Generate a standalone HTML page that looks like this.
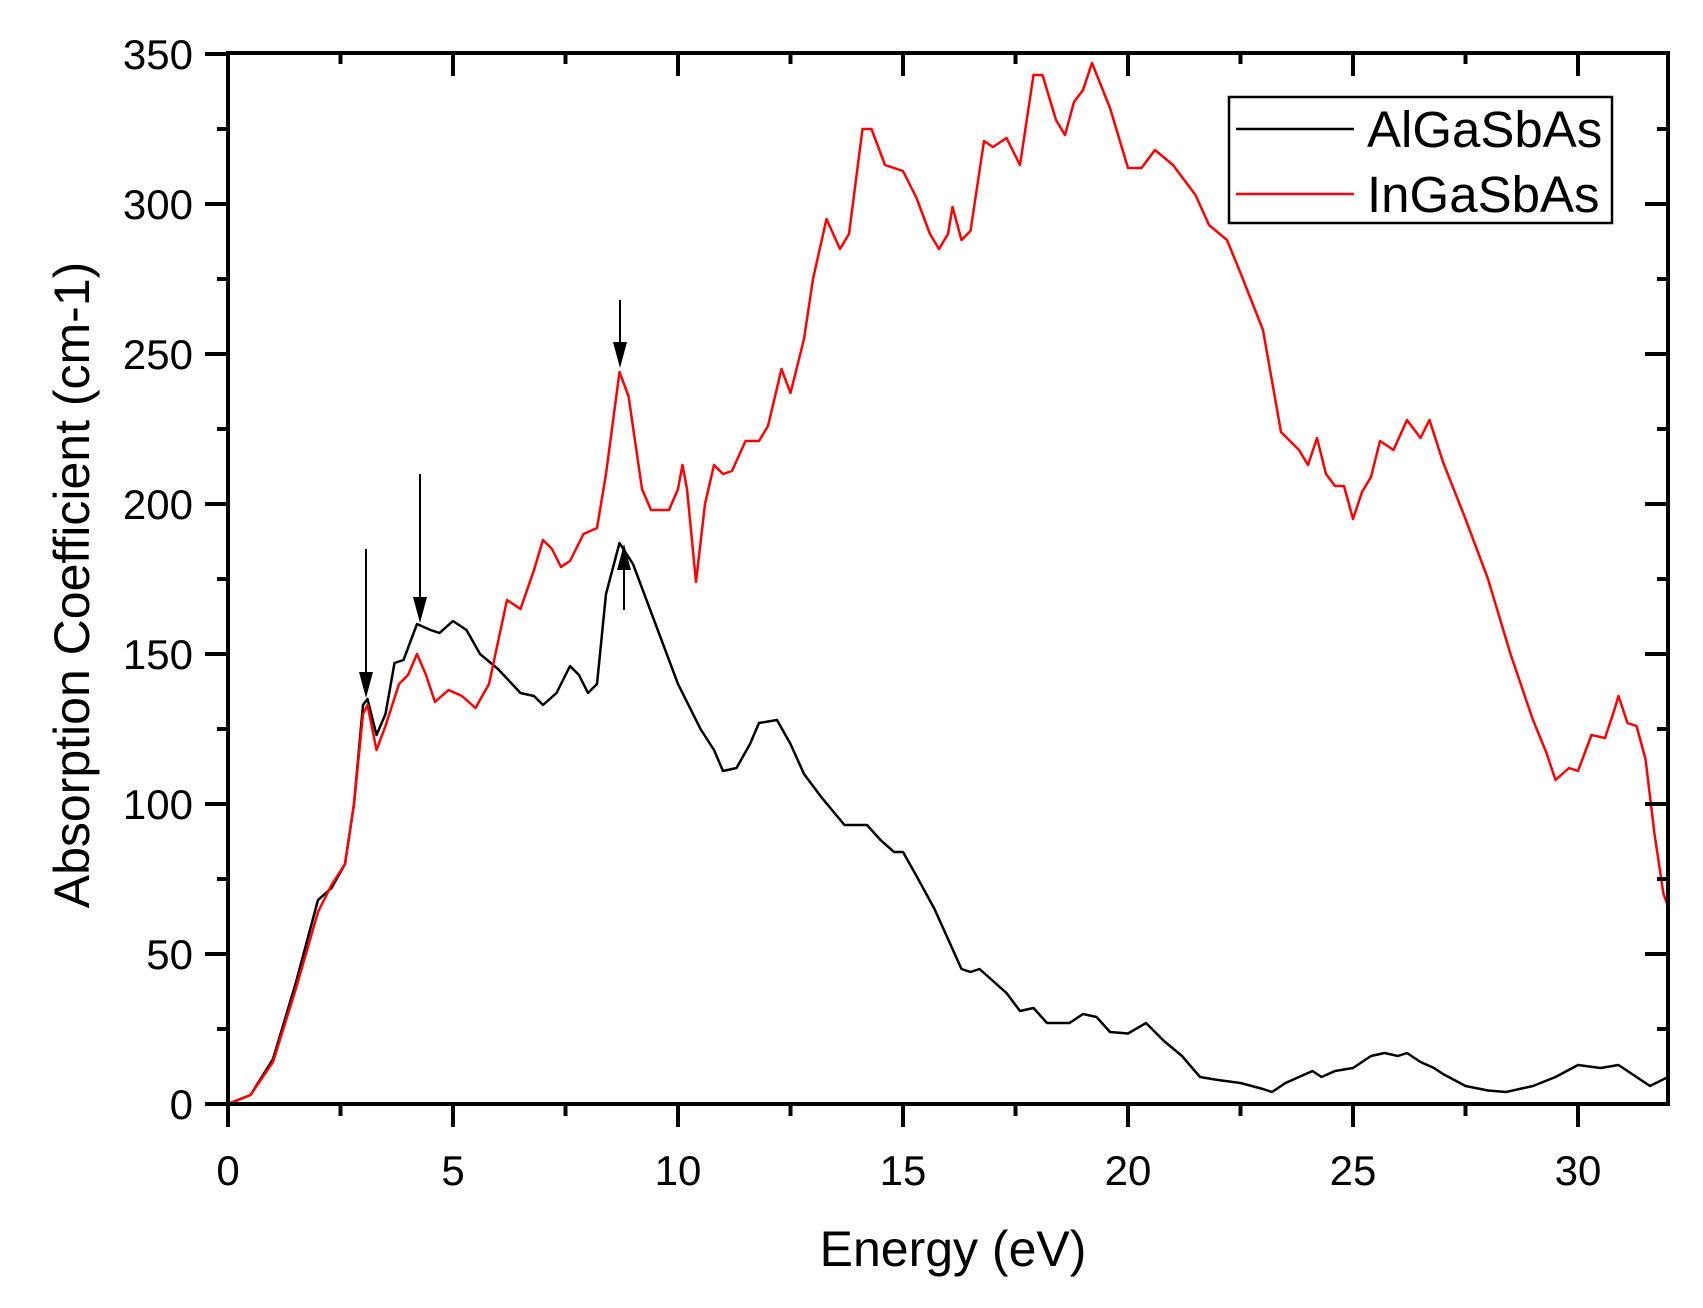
<!DOCTYPE html>
<html><head><meta charset="utf-8"><style>
html,body{margin:0;padding:0;background:#fff;}
svg text{font-family:"Liberation Sans",sans-serif;fill:#000;}
</style></head><body>
<svg width="1703" height="1303" viewBox="0 0 1703 1303" xmlns="http://www.w3.org/2000/svg">
<rect width="1703" height="1303" fill="#fff"/>
<defs><clipPath id="c"><rect x="228" y="53" width="1440" height="1051"/></clipPath></defs>
<g clip-path="url(#c)">
<g transform="translate(228,1104) scale(45,-3)" fill="none" stroke-linejoin="round">
<polyline vector-effect="non-scaling-stroke" stroke="#000" stroke-width="2.5" points="0,0 0.5,3 1,15 1.5,40 2,68 2.3,72 2.6,80 2.8,100 3,133 3.1,135 3.3,123 3.5,130 3.7,147 3.9,148 4.2,160 4.5,158 4.7,157 5,161 5.3,158 5.6,150 6,145 6.5,137 6.8,136 7,133 7.3,137 7.6,146 7.8,143 8,137 8.2,140 8.4,170 8.7,187 9,180 9.5,160 10,140 10.5,125 10.8,118 11,111 11.3,112 11.6,120 11.8,127 12.2,128 12.5,120 12.8,110 13.2,102 13.7,93 14.2,93 14.5,88 14.8,84 15,84 15.3,76 15.7,65 16,55 16.3,45 16.5,44 16.7,45 17,41 17.3,37 17.6,31 17.9,32 18.2,27 18.7,27 19,30 19.3,29 19.6,24 20,23.5 20.4,27 20.8,21 21.2,16 21.6,9 22,8 22.5,7 23,5 23.2,4 23.5,7 23.8,9 24.1,11 24.3,9 24.6,11 25,12 25.4,16 25.7,17 26,16 26.2,17 26.5,14 26.8,12 27,10 27.5,6 28,4.5 28.4,4 29,6 29.5,9 30,13 30.5,12 30.9,13 31.2,10 31.6,6 32,9"/>
<polyline vector-effect="non-scaling-stroke" stroke="#f00" stroke-width="2.5" points="0,0 0.5,3 1,14 1.5,38 2,64 2.3,73 2.6,80 2.8,100 3,130 3.1,133 3.3,118 3.5,126 3.8,140 4,143 4.2,150 4.4,143 4.6,134 4.9,138 5.2,136 5.5,132 5.8,140 6.2,168 6.5,165 6.8,178 7,188 7.2,185 7.4,179 7.6,181 7.9,190 8.2,192 8.4,210 8.7,244 8.9,236 9.2,205 9.4,198 9.8,198 10,205 10.1,213 10.2,205 10.4,174 10.6,200 10.8,213 11,210 11.2,211 11.5,221 11.8,221 12,226 12.3,245 12.5,237 12.8,255 13,275 13.3,295 13.6,285 13.8,290 14.1,325 14.3,325 14.6,313 15,311 15.3,302 15.6,290 15.8,285 16,290 16.1,299 16.3,288 16.5,291 16.8,321 17,319 17.3,322 17.6,313 17.9,343 18.1,343 18.4,328 18.6,323 18.8,334 19,338 19.2,347 19.6,332 20,312 20.3,312 20.6,318 21,313 21.5,303 21.8,293 22.2,288 22.5,277 23,258 23.4,224 23.8,218 24,213 24.2,222 24.4,210 24.6,206 24.8,206 25,195 25.2,204 25.4,209 25.6,221 25.9,218 26.2,228 26.5,222 26.7,228 27,214 27.5,195 28,175 28.5,150 29,128 29.3,117 29.5,108 29.8,112 30,111 30.3,123 30.6,122 30.8,131 30.9,136 31.1,127 31.3,126 31.5,115 31.7,90 31.9,70 32,66"/>
</g>
</g>
<!-- arrows -->
<g stroke="#000" stroke-width="2">
<line x1="366" y1="549" x2="366" y2="690"/>
<line x1="420" y1="474" x2="420" y2="615"/>
<line x1="620" y1="300" x2="620" y2="360"/>
<line x1="624" y1="610" x2="624" y2="560"/>
</g>
<g fill="#000">
<polygon points="359,672 373,672 366,698"/>
<polygon points="413,597 427,597 420,623"/>
<polygon points="613,342 627,342 620,368"/>
<polygon points="617,570 631,570 624,544"/>
</g>
<!-- axes frame -->
<rect x="228" y="53" width="1440" height="1051" fill="none" stroke="#000" stroke-width="4"/>
<g stroke="#000" stroke-width="4">
<!-- y ticks left (outward) and right (inward) -->
<path d="M205,1104H228M217,1029H228M205,954H228M217,879H228M205,804H228M217,729H228M205,654H228M217,579H228M205,504H228M217,429H228M205,354H228M217,279H228M205,204H228M217,129H228M205,54H228"/>
<path d="M1668,1029H1657M1668,954H1645M1668,879H1657M1668,804H1645M1668,729H1657M1668,654H1645M1668,579H1657M1668,504H1645M1668,429H1657M1668,354H1645M1668,279H1657M1668,204H1645M1668,129H1657"/>
<!-- x ticks bottom (outward) top (inward) -->
<path d="M228,1104V1127M340.5,1104V1116M453,1104V1127M565.5,1104V1116M678,1104V1127M790.5,1104V1116M903,1104V1127M1015.5,1104V1116M1128,1104V1127M1240.5,1104V1116M1353,1104V1127M1465.5,1104V1116M1578,1104V1127"/>
<path d="M340.5,53V64M453,53V76M565.5,53V64M678,53V76M790.5,53V64M903,53V76M1015.5,53V64M1128,53V76M1240.5,53V64M1353,53V76M1465.5,53V64M1578,53V76"/>
</g>
<g font-size="42" text-anchor="end">
<text x="193" y="1119">0</text><text x="193" y="969">50</text><text x="193" y="819">100</text>
<text x="193" y="669">150</text><text x="193" y="519">200</text><text x="193" y="369">250</text>
<text x="193" y="219">300</text><text x="193" y="69">350</text>
</g>
<g font-size="42" text-anchor="middle">
<text x="228" y="1185">0</text><text x="453" y="1185">5</text><text x="678" y="1185">10</text>
<text x="903" y="1185">15</text><text x="1128" y="1185">20</text><text x="1353" y="1185">25</text>
<text x="1578" y="1185">30</text>
</g>
<text x="953" y="1266" font-size="50" text-anchor="middle">Energy (eV)</text>
<text transform="translate(89,585) rotate(-90)" font-size="50" text-anchor="middle">Absorption Coefficient (cm-1)</text>
<!-- legend -->
<rect x="1229" y="97" width="383" height="126" fill="#fff" stroke="#000" stroke-width="2.5"/>
<line x1="1236" y1="129" x2="1354" y2="129" stroke="#000" stroke-width="2.5"/>
<line x1="1236" y1="194" x2="1354" y2="194" stroke="#f00" stroke-width="2.5"/>
<text x="1367" y="147" font-size="51">AlGaSbAs</text>
<text x="1367" y="212" font-size="51">InGaSbAs</text>
</svg>
</body></html>
